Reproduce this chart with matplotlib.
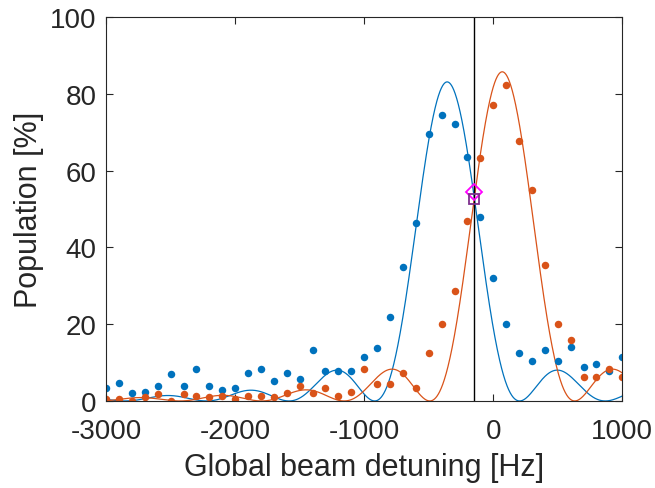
import numpy as np
import matplotlib
matplotlib.use('Agg')
import matplotlib.pyplot as plt

plt.rcParams['font.family'] = ['Liberation Sans', 'DejaVu Sans']
plt.rcParams['axes.unicode_minus'] = False

BLUE = '#0072BD'
ORANGE = '#D95319'
AX_COLOR = '#262626'

# measured populations vs global beam detuning
detuning = [-3000, -2900, -2800, -2700, -2600, -2500, -2400, -2300, -2200, -2100,
            -2000, -1900, -1800, -1700, -1600, -1500, -1400, -1300, -1200, -1100,
            -1000, -900, -800, -700, -600, -500, -400, -300, -200, -100,
            0, 100, 200, 300, 400, 500, 600, 700, 800, 900, 1000]
pop_blue = [3.5, 4.8, 2.2, 2.3, 3.8, 6.9, 3.8, 8.3, 3.8, 2.9,
            3.5, 7.3, 8.3, 5.3, 7.3, 5.6, 13.4, 7.9, 7.9, 7.9,
            11.5, 13.9, 22.0, 35.0, 46.4, 69.5, 74.6, 72.1, 63.5, 48.0,
            32.0, 20.0, 12.4, 10.4, 13.3, 10.4, 14.0, 8.9, 9.5, 7.9, 11.4]
pop_orange = [0.4, 0.4, 0.1, 1.0, 1.9, 0.1, 1.9, 1.2, 1.0, 1.2,
              0.4, 1.2, 1.2, 1.0, 2.2, 3.8, 2.2, 3.5, 1.2, 2.3,
              8.3, 4.3, 4.3, 7.3, 3.5, 12.4, 20.0, 28.6, 47.0, 63.2,
              77.2, 82.2, 67.6, 54.9, 35.5, 20.0, 15.9, 6.3, 6.3, 8.2, 6.3]

# Rabi lineshape fit parameters
rabi_freq = 283.0        # Hz
pulse_area = 0.9 * np.pi
amp_blue, center_blue = 85.2, -357.0
amp_orange, center_orange = 87.9, 70.0

# crossing point markers
cross_x = -147.0
cross_diamond = 54.4
cross_square = 52.5


def rabi(d, amp, center):
    x = (d - center) / rabi_freq
    u = np.sqrt(1 + x ** 2)
    return amp * np.sin(pulse_area / 2 * u) ** 2 / u ** 2


fig = plt.figure(figsize=(6.55, 4.89), dpi=100)
ax = fig.add_axes([0.162, 0.178, 0.788, 0.785])

d_fine = np.linspace(-3000, 1000, 2000)
ax.plot(d_fine, rabi(d_fine, amp_blue, center_blue), color=BLUE, lw=0.9)
ax.plot(d_fine, rabi(d_fine, amp_orange, center_orange), color=ORANGE, lw=0.9)
ax.plot(detuning, pop_blue, 'o', color=BLUE, ms=5.4, mec='none')
ax.plot(detuning, pop_orange, 'o', color=ORANGE, ms=5.4, mec='none')

ax.axvline(cross_x, color='k', lw=1.0)
ax.plot(cross_x, cross_diamond, 'D', ms=8, mfc='none', mec='#FF00FF', mew=1.3)
ax.plot(cross_x, cross_square, 's', ms=7.5, mfc='none', mec='#7E2F8E', mew=1.3)

ax.set_xlim(-3000, 1000)
ax.set_ylim(0, 100)
ax.set_xticks([-3000, -2000, -1000, 0, 1000])
ax.set_yticks([0, 20, 40, 60, 80, 100])
ax.tick_params(direction='in', top=True, right=True, length=5, width=0.8,
               labelsize=20, colors=AX_COLOR)
ax.tick_params(axis='x', pad=12)
ax.tick_params(axis='y', pad=7)
for s in ax.spines.values():
    s.set_color(AX_COLOR)
    s.set_linewidth(0.8)

ax.set_xlabel('Global beam detuning [Hz]', fontsize=22, color=AX_COLOR, labelpad=6)
ax.set_ylabel('Population [%]', fontsize=22, color=AX_COLOR)

fig.savefig('out.png', dpi=100)
